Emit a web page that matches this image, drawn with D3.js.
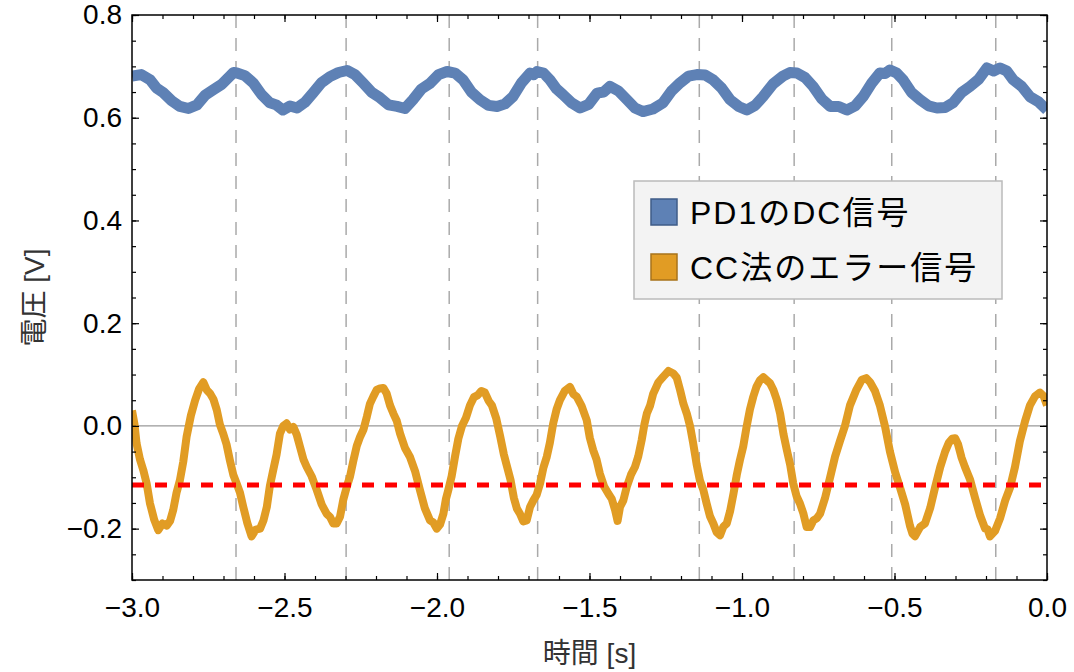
<!DOCTYPE html>
<html>
<head>
<meta charset="utf-8">
<script src="https://cdn.jsdelivr.net/npm/d3@7"></script>
<style>
  body { margin: 0; background: #fff; }
  text { font-family: "Liberation Sans", Arial, "Noto Sans CJK JP", sans-serif; fill: #000; }
</style>
</head>
<body>
<div id="chart-area"></div>
<script>
// PD1 DC signal (time [s], voltage [V]), jitter included
var dcTime = [-3.000, -2.970, -2.941, -2.920, -2.898, -2.870, -2.843, -2.815, -2.787, -2.760, -2.734, -2.706, -2.679, -2.667,
    -2.656, -2.630, -2.603, -2.575, -2.548, -2.527, -2.505, -2.482, -2.459, -2.433, -2.407, -2.379, -2.351, -2.323,
    -2.295, -2.269, -2.243, -2.215, -2.187, -2.159, -2.131, -2.105, -2.079, -2.051, -2.023, -1.995, -1.967, -1.941,
    -1.915, -1.887, -1.859, -1.831, -1.803, -1.777, -1.751, -1.723, -1.695, -1.683, -1.672, -1.651, -1.630, -1.608,
    -1.587, -1.559, -1.531, -1.503, -1.475, -1.454, -1.433, -1.405, -1.377, -1.351, -1.325, -1.292, -1.259, -1.231,
    -1.203, -1.175, -1.148, -1.121, -1.095, -1.067, -1.039, -1.011, -0.984, -0.957, -0.931, -0.898, -0.866, -0.843,
    -0.820, -0.793, -0.767, -0.739, -0.711, -0.683, -0.656, -0.629, -0.603, -0.575, -0.548, -0.531, -0.515, -0.493,
    -0.472, -0.444, -0.416, -0.388, -0.361, -0.334, -0.308, -0.280, -0.252, -0.224, -0.197, -0.175, -0.154, -0.132,
    -0.111, -0.083, -0.056, -0.028, 0.000];
var dcValue = [0.681, 0.684, 0.674, 0.658, 0.649, 0.633, 0.622, 0.618, 0.625, 0.644, 0.654, 0.665, 0.681, 0.688,
    0.687, 0.682, 0.668, 0.645, 0.629, 0.625, 0.615, 0.623, 0.619, 0.630, 0.648, 0.668, 0.680, 0.688,
    0.692, 0.684, 0.668, 0.650, 0.639, 0.625, 0.622, 0.618, 0.635, 0.656, 0.667, 0.684, 0.690, 0.687,
    0.674, 0.650, 0.635, 0.624, 0.622, 0.627, 0.641, 0.668, 0.687, 0.684, 0.690, 0.687, 0.674, 0.656,
    0.645, 0.629, 0.619, 0.626, 0.648, 0.650, 0.661, 0.652, 0.635, 0.619, 0.612, 0.617, 0.629, 0.652,
    0.668, 0.681, 0.684, 0.683, 0.674, 0.658, 0.635, 0.622, 0.615, 0.624, 0.641, 0.666, 0.681, 0.688,
    0.687, 0.678, 0.661, 0.637, 0.622, 0.622, 0.615, 0.623, 0.641, 0.667, 0.687, 0.686, 0.693, 0.687,
    0.674, 0.649, 0.635, 0.623, 0.619, 0.620, 0.629, 0.649, 0.661, 0.675, 0.697, 0.691, 0.697, 0.691,
    0.674, 0.661, 0.641, 0.631, 0.615];

// CC method error signal
var errTime = [-3.000, -2.992, -2.985, -2.974, -2.963, -2.952, -2.941, -2.927, -2.914, -2.900, -2.886, -2.875, -2.865, -2.854,
    -2.843, -2.832, -2.821, -2.807, -2.793, -2.780, -2.766, -2.755, -2.744, -2.733, -2.722, -2.712, -2.701, -2.690,
    -2.679, -2.668, -2.657, -2.646, -2.635, -2.622, -2.608, -2.594, -2.580, -2.569, -2.558, -2.548, -2.537, -2.526,
    -2.515, -2.504, -2.493, -2.482, -2.471, -2.460, -2.449, -2.438, -2.427, -2.411, -2.394, -2.378, -2.362, -2.351,
    -2.340, -2.329, -2.318, -2.307, -2.296, -2.285, -2.274, -2.263, -2.252, -2.241, -2.230, -2.220, -2.209, -2.198,
    -2.187, -2.176, -2.165, -2.154, -2.143, -2.132, -2.121, -2.105, -2.089, -2.072, -2.056, -2.040, -2.023, -2.012,
    -2.001, -1.990, -1.979, -1.971, -1.963, -1.952, -1.941, -1.930, -1.918, -1.905, -1.892, -1.879, -1.866, -1.855,
    -1.843, -1.831, -1.820, -1.806, -1.793, -1.781, -1.770, -1.759, -1.748, -1.738, -1.728, -1.717, -1.706, -1.695,
    -1.684, -1.673, -1.662, -1.651, -1.640, -1.630, -1.619, -1.608, -1.597, -1.581, -1.564, -1.553, -1.542, -1.526,
    -1.509, -1.499, -1.488, -1.477, -1.466, -1.452, -1.438, -1.427, -1.416, -1.408, -1.400, -1.389, -1.378, -1.364,
    -1.351, -1.340, -1.329, -1.320, -1.312, -1.301, -1.291, -1.274, -1.258, -1.241, -1.225, -1.214, -1.203, -1.192,
    -1.181, -1.170, -1.160, -1.149, -1.138, -1.127, -1.116, -1.105, -1.094, -1.083, -1.072, -1.061, -1.050, -1.039,
    -1.028, -1.017, -1.007, -0.996, -0.985, -0.974, -0.963, -0.952, -0.941, -0.930, -0.919, -0.908, -0.897, -0.886,
    -0.875, -0.864, -0.853, -0.842, -0.832, -0.821, -0.810, -0.799, -0.788, -0.777, -0.766, -0.755, -0.744, -0.728,
    -0.711, -0.695, -0.679, -0.662, -0.646, -0.626, -0.607, -0.593, -0.580, -0.564, -0.548, -0.531, -0.515, -0.498,
    -0.482, -0.465, -0.449, -0.441, -0.433, -0.416, -0.400, -0.383, -0.367, -0.350, -0.334, -0.322, -0.311, -0.301,
    -0.292, -0.280, -0.269, -0.252, -0.236, -0.219, -0.203, -0.195, -0.187, -0.170, -0.154, -0.137, -0.121, -0.105,
    -0.089, -0.072, -0.056, -0.039, -0.023, -0.011, 0.000];
var errValue = [0.030, 0.004, -0.034, -0.065, -0.086, -0.112, -0.151, -0.183, -0.203, -0.190, -0.194, -0.185, -0.164, -0.130,
    -0.106, -0.070, -0.021, 0.020, 0.050, 0.072, 0.085, 0.070, 0.063, 0.052, 0.031, 0.003, -0.015, -0.036,
    -0.067, -0.095, -0.112, -0.130, -0.158, -0.189, -0.215, -0.202, -0.200, -0.184, -0.158, -0.117, -0.086, -0.056,
    -0.015, 0.000, 0.005, -0.007, -0.002, -0.017, -0.041, -0.065, -0.080, -0.098, -0.125, -0.153, -0.171, -0.177,
    -0.190, -0.190, -0.177, -0.143, -0.119, -0.098, -0.067, -0.039, -0.021, -0.007, 0.018, 0.043, 0.057, 0.070,
    0.073, 0.074, 0.063, 0.040, 0.024, 0.010, -0.015, -0.043, -0.060, -0.088, -0.125, -0.160, -0.184, -0.188,
    -0.200, -0.192, -0.171, -0.143, -0.125, -0.098, -0.060, -0.025, 0.000, 0.016, 0.040, 0.056, 0.060, 0.068,
    0.065, 0.049, 0.040, 0.015, -0.020, -0.055, -0.080, -0.105, -0.140, -0.161, -0.171, -0.186, -0.184, -0.158,
    -0.145, -0.134, -0.112, -0.081, -0.060, -0.033, 0.005, 0.032, 0.050, 0.068, 0.076, 0.062, 0.057, 0.039,
    0.011, -0.023, -0.047, -0.065, -0.093, -0.118, -0.132, -0.142, -0.164, -0.185, -0.158, -0.145, -0.119, -0.095,
    -0.080, -0.059, -0.028, 0.003, 0.024, 0.040, 0.063, 0.085, 0.096, 0.107, 0.102, 0.094, 0.070, 0.043,
    0.024, -0.001, -0.034, -0.074, -0.106, -0.124, -0.151, -0.176, -0.190, -0.207, -0.213, -0.196, -0.190, -0.166,
    -0.132, -0.095, -0.067, -0.040, -0.002, 0.032, 0.057, 0.077, 0.089, 0.095, 0.089, 0.083, 0.070, 0.051,
    0.024, -0.016, -0.047, -0.076, -0.112, -0.137, -0.151, -0.170, -0.197, -0.197, -0.184, -0.180, -0.171, -0.141,
    -0.100, -0.060, -0.030, 0.001, 0.040, 0.069, 0.090, 0.093, 0.085, 0.068, 0.040, -0.001, -0.050, -0.090,
    -0.120, -0.153, -0.195, -0.210, -0.215, -0.197, -0.190, -0.160, -0.120, -0.080, -0.050, -0.033, -0.025, -0.024,
    -0.035, -0.062, -0.080, -0.105, -0.140, -0.175, -0.200, -0.201, -0.215, -0.204, -0.180, -0.145, -0.120, -0.080,
    -0.030, 0.009, 0.040, 0.058, 0.065, 0.058, 0.040];

// vertical dashed markers and the red reference level
var markerTimes = [-2.659, -2.298, -1.960, -1.670, -1.140, -0.829, -0.509, -0.168];
var refLevel = -0.115;

var xTicks = [-3.0, -2.5, -2.0, -1.5, -1.0, -0.5, 0.0];
var yTicks = [-0.2, 0.0, 0.2, 0.4, 0.6, 0.8];

var seriesNames = ["PD1のDC信号", "CC法のエラー信号"];
var seriesColors = ["#5e81b5", "#e19c24"];
var swatchStroke = ["#3f5c88", "#a8731a"];

var margin = {top: 15, right: 27, bottom: 92, left: 132};
var width = 1074 - margin.left - margin.right;
var height = 672 - margin.top - margin.bottom;

var svg = d3.select("#chart-area").append("svg")
    .attr("width", 1074)
    .attr("height", 672);

var g = svg.append("g")
    .attr("transform", "translate(" + margin.left + "," + margin.top + ")");

var x = d3.scaleLinear().domain([-3, 0]).range([0, width]);
var y = d3.scaleLinear().domain([-0.3, 0.8]).range([height, 0]);

var fmt = function (d) {
    return (d < -1e-9 ? "\u2212" : "") + Math.abs(d).toFixed(1);
};

g.append("clipPath").attr("id", "clip")
    .append("rect").attr("width", width).attr("height", height);

// dashed time markers
g.selectAll(".marker")
    .data(markerTimes)
    .enter().append("line")
    .attr("class", "marker")
    .attr("x1", function (d) { return x(d); })
    .attr("x2", function (d) { return x(d); })
    .attr("y1", 0)
    .attr("y2", height)
    .attr("stroke", "#aaa")
    .attr("stroke-width", 1.5)
    .attr("stroke-dasharray", "13,10");

// zero line
g.append("line")
    .attr("x1", 0).attr("x2", width)
    .attr("y1", y(0)).attr("y2", y(0))
    .attr("stroke", "#999")
    .attr("stroke-width", 1.2);

var line = d3.line()
    .x(function (d) { return x(d[0]); })
    .y(function (d) { return y(d[1]); });

var dcData = dcTime.map(function (t, i) { return [t, dcValue[i]]; });
var errData = errTime.map(function (t, i) { return [t, errValue[i]]; });

g.append("path")
    .datum(dcData)
    .attr("clip-path", "url(#clip)")
    .attr("d", line)
    .attr("fill", "none")
    .attr("stroke", seriesColors[0])
    .attr("stroke-width", 11)
    .attr("stroke-linejoin", "round");

g.append("path")
    .datum(errData)
    .attr("clip-path", "url(#clip)")
    .attr("d", line)
    .attr("fill", "none")
    .attr("stroke", seriesColors[1])
    .attr("stroke-width", 8)
    .attr("stroke-linejoin", "round");

// red reference level
g.append("line")
    .attr("x1", 0).attr("x2", width)
    .attr("y1", y(refLevel)).attr("y2", y(refLevel))
    .attr("stroke", "#ff0000")
    .attr("stroke-width", 5)
    .attr("stroke-dasharray", "12,11");

// axes on all four sides, ticks pointing inward
var xMinor = d3.range(-30, 1).map(function (d) { return d / 10; });
var yMinor = d3.range(-6, 17).map(function (d) { return d / 20; });

function drawAxis(axis, tx, ty, cls) {
    var a = g.append("g")
        .attr("class", cls)
        .attr("transform", "translate(" + tx + "," + ty + ")")
        .call(axis);
    a.select(".domain").remove();
    a.selectAll("line").attr("stroke", "#000").attr("stroke-width", 1.2);
    return a;
}

drawAxis(d3.axisBottom(x).tickValues(xMinor).tickSize(-4).tickFormat(""), 0, height, "minor");
drawAxis(d3.axisTop(x).tickValues(xMinor).tickSize(-4).tickFormat(""), 0, 0, "minor");
drawAxis(d3.axisLeft(y).tickValues(yMinor).tickSize(-4).tickFormat(""), 0, 0, "minor");
drawAxis(d3.axisRight(y).tickValues(yMinor).tickSize(-4).tickFormat(""), width, 0, "minor");

drawAxis(d3.axisBottom(x).tickValues(xTicks).tickSize(-7).tickPadding(17).tickFormat(fmt), 0, height, "x axis");
drawAxis(d3.axisTop(x).tickValues(xTicks).tickSize(-7).tickFormat(""), 0, 0, "x top");
drawAxis(d3.axisLeft(y).tickValues(yTicks).tickSize(-7).tickPadding(10).tickFormat(fmt), 0, 0, "y axis");
drawAxis(d3.axisRight(y).tickValues(yTicks).tickSize(-7).tickFormat(""), width, 0, "y right");

svg.selectAll(".axis text")
    .attr("font-size", 28)
    .attr("font-family", null)
    .attr("fill", "#000");

// frame
g.append("rect")
    .attr("width", width)
    .attr("height", height)
    .attr("fill", "none")
    .attr("stroke", "#000")
    .attr("stroke-width", 1.5);

// axis titles
svg.append("text")
    .attr("x", margin.left + width / 2)
    .attr("y", 663)
    .attr("text-anchor", "middle")
    .attr("font-size", 28)
    .style("fill", "#333")
    .text("時間 [s]");

svg.append("text")
    .attr("transform", "translate(44," + (margin.top + height / 2) + ") rotate(-90)")
    .attr("text-anchor", "middle")
    .attr("font-size", 28)
    .style("fill", "#333")
    .text("電圧 [V]");

// legend
var legend = svg.append("g").attr("transform", "translate(634,181)");

legend.append("rect")
    .attr("width", 368)
    .attr("height", 118)
    .attr("fill", "#f3f3f3")
    .attr("stroke", "#bbb")
    .attr("stroke-width", 1.5);

var item = legend.selectAll(".item")
    .data(seriesNames)
    .enter().append("g")
    .attr("class", "item")
    .attr("transform", function (d, i) { return "translate(0," + (i * 55) + ")"; });

item.append("rect")
    .attr("x", 17)
    .attr("y", 18)
    .attr("width", 26)
    .attr("height", 26)
    .attr("fill", function (d, i) { return seriesColors[i]; })
    .attr("stroke", function (d, i) { return swatchStroke[i]; })
    .attr("stroke-width", 1.5);

item.append("text")
    .attr("x", 56)
    .attr("y", 43)
    .attr("font-size", 32)
    .style("letter-spacing", "2px")
    .text(function (d) { return d; });
</script>
</body>
</html>
